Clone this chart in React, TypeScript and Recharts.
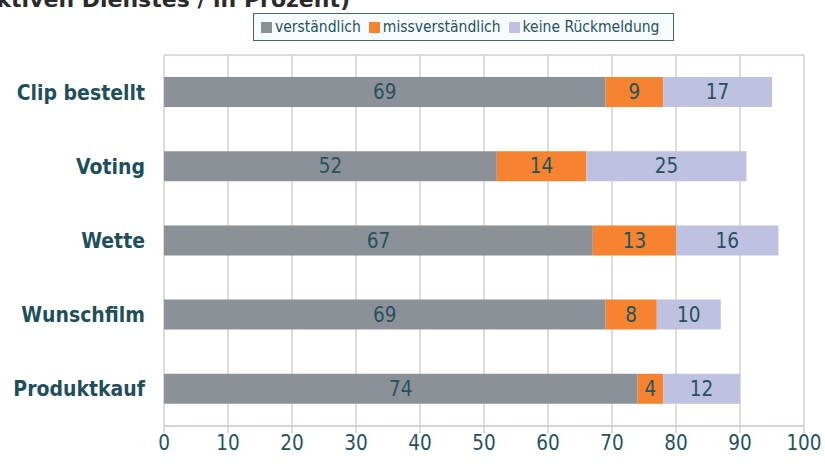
import { Bar, BarChart, CartesianGrid, LabelList, XAxis, YAxis } from "recharts";

const categories = ["Clip bestellt", "Voting", "Wette", "Wunschfilm", "Produktkauf"];
const verstaendlich = [69, 52, 67, 69, 74];
const missverstaendlich = [9, 14, 13, 8, 4];
const keineRueckmeldung = [17, 25, 16, 10, 12];
const xTicks = [0, 10, 20, 30, 40, 50, 60, 70, 80, 90, 100];
const boundaryTicks = [0, 1, 2, 3, 4, 5];

const series = [
    { key: "verstaendlich", name: "verständlich", color: "#8c9198" },
    { key: "missverstaendlich", name: "missverständlich", color: "#f5832f" },
    { key: "keine", name: "keine Rückmeldung", color: "#bfc1e1" },
];

const data = categories.map((name, i) => ({
    name,
    verstaendlich: verstaendlich[i],
    missverstaendlich: missverstaendlich[i],
    keine: keineRueckmeldung[i],
}));

const textColor = "#24535f";
const gridColor = "#d6cecf";
const font = "'DejaVu Sans Condensed', 'DejaVu Sans', sans-serif";

const LegendBox = () => (
    <div
        style={{
            position: "absolute",
            left: 253,
            top: 13,
            display: "flex",
            alignItems: "center",
            border: "1px solid #3f6672",
            background: "#f7fbfc",
            padding: "0 6px 0 7px",
            height: 26,
            fontFamily: font,
            fontSize: 15.5,
            color: textColor,
            whiteSpace: "nowrap",
        }}
    >
        {series.map((s) => (
            <span key={s.key} style={{ display: "flex", alignItems: "center", marginRight: 8 }}>
                <span style={{ width: 11, height: 11, background: s.color, marginRight: 3 }} />
                {s.name}
            </span>
        ))}
    </div>
);

const CategoryTick = ({ x, y, payload }: any) => (
    <text x={x - 11} y={y} dy="0.36em" textAnchor="end" fill="#1f4f5b" fontFamily={font} fontWeight="bold" fontSize={21}>
        {payload.value}
    </text>
);

export default function App() {
    return (
        <div style={{ position: "absolute", left: 0, top: 0, width: 825, height: 466, background: "#fff", overflow: "hidden" }}>
            <div
                style={{
                    position: "absolute",
                    right: 475,
                    top: -11,
                    fontFamily: "'DejaVu Sans', sans-serif",
                    fontWeight: "bold",
                    fontSize: 22,
                    lineHeight: "22px",
                    color: "#2b2b2b",
                    whiteSpace: "nowrap",
                }}
            >
                (Nutzung des interaktiven Dienstes / in Prozent)
            </div>
            <BarChart
                width={825}
                height={466}
                data={data}
                layout="vertical"
                margin={{ top: 55, right: 21, bottom: 0, left: 0 }}
                barSize={30}
            >
                <CartesianGrid yAxisId="grid" stroke={gridColor} strokeWidth={1.5} />
                <XAxis
                    type="number"
                    domain={[0, 100]}
                    ticks={xTicks}
                    interval={0}
                    height={40}
                    axisLine={{ stroke: gridColor, strokeWidth: 1.5 }}
                    tickLine={{ stroke: gridColor, strokeWidth: 1.5 }}
                    tickSize={7}
                    tickMargin={2}
                    tick={{ fill: textColor, fontSize: 20.5, fontFamily: font }}
                />
                <YAxis
                    yAxisId="cat"
                    type="category"
                    dataKey="name"
                    width={164}
                    axisLine={false}
                    tickLine={false}
                    tick={<CategoryTick />}
                />
                <YAxis
                    yAxisId="grid"
                    type="number"
                    domain={[0, 5]}
                    ticks={boundaryTicks}
                    width={0}
                    axisLine={{ stroke: "#4d7783", strokeWidth: 1.5 }}
                    tickLine={{ stroke: "#2f5a66", strokeWidth: 1.5 }}
                    tickSize={7}
                    tick={false}
                />
                {series.map((s) => (
                    <Bar
                        key={s.key}
                        yAxisId="cat"
                        dataKey={s.key}
                        name={s.name}
                        stackId="a"
                        fill={s.color}
                        isAnimationActive={false}
                    >
                        <LabelList dataKey={s.key} position="center" fill={textColor} fontSize={20.5} fontFamily={font} />
                    </Bar>
                ))}
            </BarChart>
            <LegendBox />
        </div>
    );
}
